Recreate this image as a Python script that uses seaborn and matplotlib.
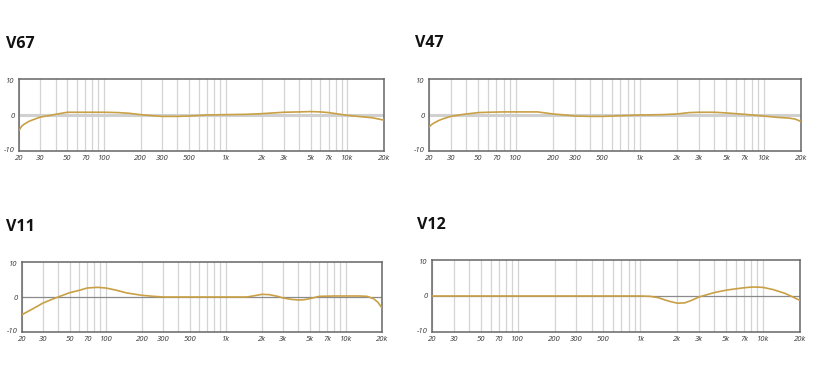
import matplotlib
matplotlib.use('Agg')
import matplotlib.pyplot as plt
import seaborn as sns
import pandas as pd

sns.set_style('white')
plt.rcParams['font.family'] = ['Open Sans', 'DejaVu Sans']

# frequency response curves (Hz, dB)
v67_freq = [20, 21, 22, 24, 26, 30, 35, 40, 50, 60, 80, 100, 130, 160, 200, 250, 300, 400, 500,
            700, 1000, 1500, 2000, 3000, 4000, 5000, 6000, 7000, 8000, 10000, 13000, 16000, 20000]
v67_db = [-4.5, -3.3, -2.7, -1.9, -1.4, -0.6, -0.2, 0.2, 0.8, 0.8, 0.8, 0.8, 0.7, 0.5, 0.1, -0.2, -0.4,
          -0.4, -0.3, 0.0, 0.1, 0.2, 0.4, 0.8, 0.9, 1.0, 0.9, 0.7, 0.4, -0.1, -0.5, -0.8, -1.5]

v47_freq = [20, 21, 22, 24, 26, 30, 35, 40, 50, 60, 80, 100, 130, 150, 200, 250, 300, 400, 500,
            700, 1000, 1500, 2000, 2500, 3000, 4000, 5000, 7000, 10000, 13000, 16000, 18000, 20000]
v47_db = [-3.5, -2.8, -2.3, -1.6, -1.1, -0.4, 0.0, 0.3, 0.7, 0.8, 0.9, 0.9, 0.9, 0.9, 0.3, 0.0, -0.3,
          -0.4, -0.4, -0.2, 0.0, 0.1, 0.3, 0.7, 0.8, 0.8, 0.6, 0.2, -0.3, -0.7, -0.9, -1.2, -1.9]

v11_freq = [20, 25, 30, 35, 40, 50, 60, 70, 85, 100, 120, 150, 200, 250, 300, 500, 1000, 1500,
            1800, 2000, 2300, 2700, 3000, 3500, 4000, 4500, 5000, 6000, 8000, 10000, 13000, 15000,
            17000, 18500, 20000]
v11_db = [-5.3, -3.4, -1.8, -0.8, 0.0, 1.3, 2.0, 2.7, 2.9, 2.7, 2.1, 1.2, 0.5, 0.2, 0.0, 0.0, 0.0, 0.0,
          0.5, 0.8, 0.7, 0.2, -0.3, -0.7, -0.9, -0.8, -0.5, 0.2, 0.3, 0.3, 0.3, 0.2, -0.5, -1.6, -3.3]

v12_freq = [20, 50, 100, 200, 500, 1000, 1200, 1400, 1700, 2000, 2300, 2600, 3000, 3500, 4000, 5000,
            6000, 7000, 8000, 9000, 10000, 12000, 15000, 18000, 20000]
v12_db = [0.0, 0.0, 0.0, 0.0, 0.0, 0.0, -0.1, -0.5, -1.5, -2.1, -2.0, -1.3, -0.3, 0.4, 1.0, 1.7,
          2.1, 2.4, 2.6, 2.6, 2.5, 1.9, 0.8, -0.5, -1.3]

panels = [
    ('V67', v67_freq, v67_db),
    ('V47', v47_freq, v47_db),
    ('V11', v11_freq, v11_db),
    ('V12', v12_freq, v12_db),
]

grid_freqs = [20, 30, 40, 50, 60, 70, 80, 90, 100, 200, 300, 400, 500, 600, 700, 800, 900, 1000,
              2000, 3000, 4000, 5000, 6000, 7000, 8000, 9000, 10000, 20000]
tick_freqs = [20, 30, 50, 70, 100, 200, 300, 500, 1000, 2000, 3000, 5000, 7000, 10000, 20000]
tick_labels = ['20', '30', '50', '70', '100', '200', '300', '500', '1k', '2k', '3k', '5k', '7k', '10k', '20k']

W, H = 820, 381
# axes boxes in pixels: left, top, right, bottom
boxes = [(19, 79, 384, 151), (429, 79, 801, 151), (22, 262, 382, 332), (432, 260, 800, 332)]
titles_px = [(6, 44), (415, 43), (6, 227), (417, 225)]
zero_styles = [dict(color='#d0d0d0', lw=2.2), dict(color='#d0d0d0', lw=2.2),
               dict(color='#8a8a8a', lw=0.9), dict(color='#8a8a8a', lw=0.9)]

fig = plt.figure(figsize=(W / 100, H / 100), dpi=100)

for (name, f, db), (l, t, r, b), (tx, ty), zs in zip(panels, boxes, titles_px, zero_styles):
    ax = fig.add_axes([l / W, 1 - b / H, (r - l) / W, (b - t) / H])
    df = pd.DataFrame({'freq': f, 'db': db})
    for g in grid_freqs:
        ax.axvline(g, color='#d4d4d4', lw=0.9, zorder=0)
    ax.axhline(0, zorder=1, **zs)
    sns.lineplot(data=df, x='freq', y='db', ax=ax, color='#c9a045', lw=1.2, zorder=3)
    ax.set_xscale('log')
    ax.set_xlim(20, 20000)
    ax.set_ylim(-10.5, 10.5)
    ax.set_xticks(tick_freqs)
    ax.set_xticklabels(tick_labels)
    ax.minorticks_off()
    ax.set_yticks([10, 0, -10])
    ax.set_yticklabels(['10', '0', '-10'])
    ax.tick_params(length=0, labelsize=5.5, pad=3, colors='#333333')
    for lab in ax.get_xticklabels() + ax.get_yticklabels():
        lab.set_fontstyle('italic')
    ax.set_xlabel('')
    ax.set_ylabel('')
    for s in ax.spines.values():
        s.set_color('#666666')
        s.set_linewidth(1.1)
    fig.text(tx / W, 1 - ty / H, name, fontsize=11.5, fontweight='bold', va='center', ha='left',
             color='#111111')

fig.savefig('out.png', dpi=100)
